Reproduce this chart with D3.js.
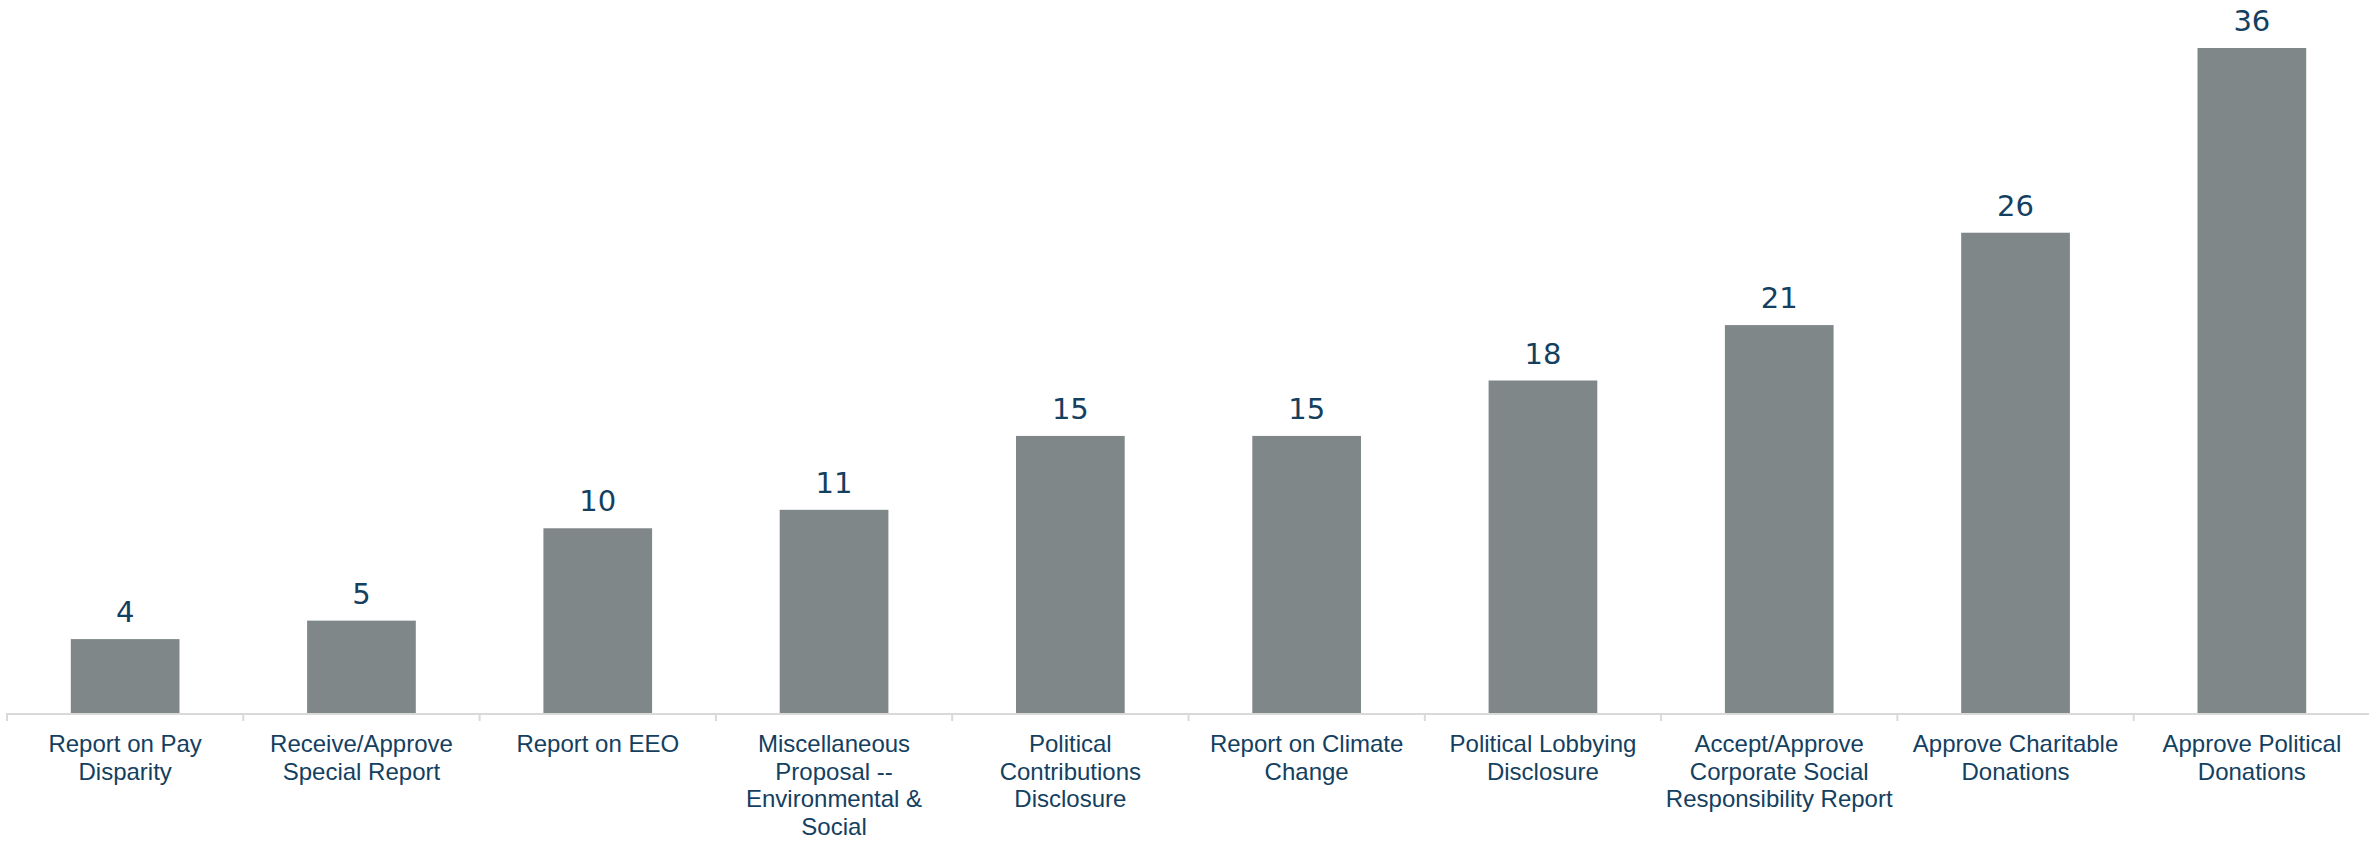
<!DOCTYPE html>
<html>
<head>
<meta charset="utf-8">
<script src="https://cdn.jsdelivr.net/npm/d3@7"></script>
<style>
  html, body { margin: 0; padding: 0; background: #ffffff; }
  svg { display: block; }
</style>
</head>
<body>
<svg id="chart" width="2369" height="844"></svg>
<script>
// Shareholder proposal types and their counts
const categories = [
  "Report on Pay\nDisparity",
  "Receive/Approve\nSpecial Report",
  "Report on EEO",
  "Miscellaneous\nProposal --\nEnvironmental &\nSocial",
  "Political\nContributions\nDisclosure",
  "Report on Climate\nChange",
  "Political Lobbying\nDisclosure",
  "Accept/Approve\nCorporate Social\nResponsibility Report",
  "Approve Charitable\nDonations",
  "Approve Political\nDonations"
];
const values = [4, 5, 10, 11, 15, 15, 18, 21, 26, 36];

const svg = d3.select("#chart");

const x = d3.scaleBand()
  .domain(categories)
  .range([7, 2370])
  .paddingInner(0.54)
  .paddingOuter(0.27);

const y = d3.scaleLinear()
  .domain([0, 36])
  .range([713, 48]);

const barColor = "#7f8789";
const textColor = "#14405f";

// Bars
svg.append("g")
  .selectAll("rect")
  .data(values)
  .join("rect")
  .attr("x", (d, i) => x(categories[i]))
  .attr("y", d => y(d))
  .attr("width", x.bandwidth())
  .attr("height", d => y(0) - y(d))
  .attr("fill", barColor);

// Value labels above bars
svg.append("g")
  .selectAll("text")
  .data(values)
  .join("text")
  .attr("x", (d, i) => x(categories[i]) + x.bandwidth() / 2)
  .attr("y", d => y(d) - 17)
  .attr("text-anchor", "middle")
  .attr("font-family", "DejaVu Sans, sans-serif")
  .attr("font-size", 29)
  .attr("fill", textColor)
  .text(d => d);

// Category axis: baseline with ticks at band boundaries
const step = x.step();
const x0 = x.range()[0];
const axisG = svg.append("g");
axisG.append("line")
  .attr("x1", x0).attr("x2", x.range()[1])
  .attr("y1", y(0) + 1).attr("y2", y(0) + 1)
  .attr("stroke", "#d9d9d9")
  .attr("stroke-width", 2);
axisG.selectAll("line.tick")
  .data(d3.range(categories.length + 1))
  .join("line")
  .attr("class", "tick")
  .attr("x1", i => x0 + i * step)
  .attr("x2", i => x0 + i * step)
  .attr("y1", y(0))
  .attr("y2", y(0) + 8)
  .attr("stroke", "#d9d9d9")
  .attr("stroke-width", 2);

// Category labels, wrapped on explicit line breaks
const labels = axisG.selectAll("text.cat")
  .data(categories)
  .join("text")
  .attr("class", "cat")
  .attr("x", d => x(d) + x.bandwidth() / 2)
  .attr("y", 752)
  .attr("text-anchor", "middle")
  .attr("font-family", "Liberation Sans, Arial, sans-serif")
  .attr("font-size", 24)
  .attr("fill", textColor);

labels.each(function(d) {
  const t = d3.select(this);
  d.split("\n").forEach((line, j) => {
    t.append("tspan")
      .attr("x", x(d) + x.bandwidth() / 2)
      .attr("dy", j === 0 ? 0 : 27.5)
      .text(line);
  });
});
</script>
</body>
</html>
